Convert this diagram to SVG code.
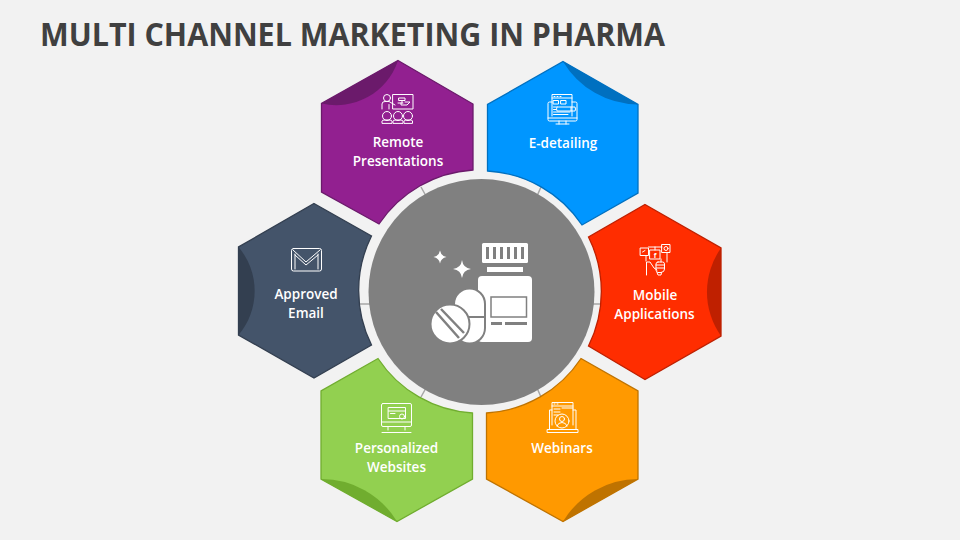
<svg xmlns="http://www.w3.org/2000/svg" width="960" height="540" viewBox="0 0 960 540">
<style>
.hex{stroke-width:1.3;stroke-linejoin:miter}
.lb{font-family:"Open Sans","Liberation Sans",sans-serif;font-size:13.500px;font-weight:600;fill:#fff;text-anchor:middle}
.ic{fill:none;stroke:#fff;stroke-width:1;stroke-linejoin:round;stroke-linecap:round}
.tick{stroke:#a6a6a6;stroke-width:1.5;fill:none}
.w{fill:#fff}
.g{fill:#808080}
</style>
<rect width="960" height="540" fill="#f2f2f2"/>
<text id="title" x="40" y="46" font-family="'Open Sans','Liberation Sans',sans-serif" font-weight="700" font-size="32" fill="#404040" textLength="625" lengthAdjust="spacingAndGlyphs">MULTI CHANNEL MARKETING IN PHARMA</text>

<g id="connectors">
<path class="tick" d="M421 187L426 196M541 187L537 196M593 304H603M360 304H370M421 397L426 388M541 397L537 388"/>
</g>

<g id="node-remote">
<path class="hex" fill="#922090" stroke="#6b1a6b" d="M398 60.500L473 104V170A122 122 0 0 0 379 224L321.500 192V103.500Z"/>
<path fill="#6b1a6b" d="M321.500 103.500A65 65 0 0 0 398 60.500Z"/>
<g class="ic">
<rect x="393" y="94.500" width="20" height="14.500"/>
<circle cx="387" cy="98" r="3.500"/>
<path d="M382 109V104Q382 101.500 385 101.500H389L395 105M389 109V104.500M399 98H405V100.500H399ZM402 100.500V103M398 103H403M405 102H410L407 105H401V103"/>
<circle cx="387" cy="116" r="4.500"/><circle cx="398" cy="116" r="4.500"/><circle cx="408" cy="116" r="4.500"/>
<path d="M382 123V121Q382 120 385 120H389Q392 120 392 121V123ZM393 123V121Q393 120 396 120H400Q403 120 403 121V123ZM404 123V121Q404 120 406 120H410Q412.500 120 412.500 121V123Z"/>
</g>
<text class="lb" x="398" y="147">Remote</text>
<text class="lb" x="398" y="166">Presentations</text>
</g>

<g id="node-edetailing">
<path class="hex" fill="#0096ff" stroke="#0070c0" d="M563 61.500L638 104.500V193L582 225A122 122 0 0 0 487.500 171V104.500Z"/>
<path fill="#0070c0" d="M563 61.500A88 88 0 0 0 638 104.500Z"/>
<g class="ic">
<path d="M552 102H549.500Q548 102 548 103.500V119.500Q548 121 549.500 121H575.500Q577 121 577 119.500V103.500Q577 102 575.500 102H572"/>
<path d="M552 116V94.500H572V116M552 98H572M554 96.500H555M557 96.500H558M560 96.500H561"/>
<rect x="553.500" y="100.500" width="5" height="3.500"/><rect x="561" y="100.500" width="5" height="3.500"/>
<path d="M553.500 107H556M553.500 109.500H556M553.500 112H570M553.500 114.500H568M557 107H575Q576 109 575 111H557Q556 109 557 107ZM571 107V111"/>
<path d="M556 124H569M559 121V124M566 121V124M548 118H577"/>
</g>
<text class="lb" x="563" y="148">E-detailing</text>
</g>

<g id="node-mobile">
<path class="hex" fill="#ff2d00" stroke="#bf2000" d="M645 204.500L721 248V336L645 379.500L588.500 346A122 122 0 0 0 588.500 237Z"/>
<path fill="#bf2000" d="M721 248A76 76 0 0 0 721 336Z"/>
<g class="ic">
<rect x="640.500" y="248" width="8" height="7.500"/>
<rect x="650" y="250" width="10" height="9"/>
<rect x="662" y="244.500" width="8" height="8"/>
<circle cx="666" cy="248.500" r="2"/>
<path d="M642.500 252L645 250.500M648.500 247H662M655 247V250M646 255.500V261M661 259V262M667 253V262"/>
<path d="M646.500 275V262H650L654 268L657 270"/>
<path d="M658 262H662.500Q664.500 262 664.500 264V269Q664.500 272 661 272.500H658Q656 272 656 270V264Q656 262 658 262ZM656 265H664.500M656 268H664.500M657 272.500L658 275H661L661.500 272.500"/>
</g>
<text x="655" y="257.500" font-family="'Open Sans','Liberation Sans',sans-serif" font-size="7" font-weight="700" fill="#fff" text-anchor="middle">f</text>
<text class="lb" x="655" y="300">Mobile</text>
<text class="lb" x="654.500" y="319">Applications</text>
</g>

<g id="node-webinars">
<path class="hex" fill="#ff9900" stroke="#bf7300" d="M581 358.500L638 391V479L563 521.500L486.500 479V413A122 122 0 0 0 581 358.500Z"/>
<path fill="#bf7300" d="M638 479A88 88 0 0 0 563 521.500Z"/>
<g class="ic">
<path d="M552 425V402.500H573V425M552 406H573M554 404H555M557 404H558M554 409H560M554 412H560M554 415H558M562 408H573"/>
<path d="M552 410H549.500V429M573 410H576V429M547.500 429.500H578V432.500H547.500Z"/>
<circle cx="562" cy="421" r="7"/><circle cx="562" cy="419" r="2.500"/>
<path d="M557 426Q558 422.500 562 422.500Q566 422.500 567 426"/>
</g>
<text class="lb" x="562" y="453">Webinars</text>
</g>

<g id="node-websites">
<path class="hex" fill="#92d050" stroke="#70ad2f" d="M378 358.500A122 122 0 0 0 472.500 413V479L397 521.500L321 479V391Z"/>
<path fill="#70ad2f" d="M321 479A88 88 0 0 1 397 521.500Z"/>
<g class="ic">
<rect x="381.500" y="403.500" width="30" height="23" rx="1.500"/>
<path d="M381.500 422H411.500M388 426.500V430M405 426.500V430M382 432.500H411"/>
<rect x="388.500" y="407.500" width="17" height="11"/>
<path d="M388.500 411H405.500M390.500 413.500H395"/>
<circle cx="402" cy="416.500" r="2.500"/>
</g>
<text class="lb" x="396.500" y="453">Personalized</text>
<text class="lb" x="396.500" y="472">Websites</text>
</g>

<g id="node-email">
<path class="hex" fill="#44546a" stroke="#333f50" d="M314 203.500L371.500 236A122 122 0 0 0 371.500 345L314 378L238.500 335V247Z"/>
<path fill="#333f50" d="M238.500 247A68 68 0 0 1 238.500 335Z"/>
<g class="ic">
<rect x="291.500" y="248.500" width="30" height="22.500" rx="2"/>
<path d="M293 250L306 262L320 250M295 254V269M318 254V269M295 255L306 265L318 255"/>
</g>
<text class="lb" x="306" y="299">Approved</text>
<text class="lb" x="306" y="318">Email</text>
</g>

<g id="node-center">
<circle cx="481.500" cy="292" r="113" fill="#808080"/>
<rect class="w" x="482" y="243" width="46" height="20" rx="1.500"/>
<path class="g" d="M486 247h3v12h-3zM493 247h3v12h-3zM500 247h3v12h-3zM507 247h3v12h-3zM514 247h3v12h-3zM521 247h3v12h-3z"/>
<rect class="w" x="487" y="267" width="36" height="5"/>
<rect class="w" x="478" y="276" width="54" height="66" rx="4"/>
<rect x="491" y="297" width="35.500" height="20" fill="none" stroke="#808080" stroke-width="1.500"/>
<rect class="g" x="491" y="322" width="11" height="3"/>
<rect class="g" x="505" y="322" width="22" height="3"/>
<rect x="454" y="288.500" width="31" height="55" rx="15.500" fill="#fff" stroke="#808080" stroke-width="2"/>
<rect class="g" x="455" y="316" width="31" height="2"/>
<circle cx="450" cy="324" r="19.500" fill="#fff" stroke="#808080" stroke-width="2"/>
<path d="M436 312L459 338M441 309L464 333" stroke="#808080" stroke-width="2.500" fill="none"/>
<path class="w" d="M440 250.500Q441 256 446.500 257Q441 258 440 263.500Q439 258 433.500 257Q439 256 440 250.500Z"/>
<path class="w" d="M462 260Q463 268 471 269Q463 270 462 278Q461 270 453 269Q461 268 462 260Z"/>
</g>
</svg>
